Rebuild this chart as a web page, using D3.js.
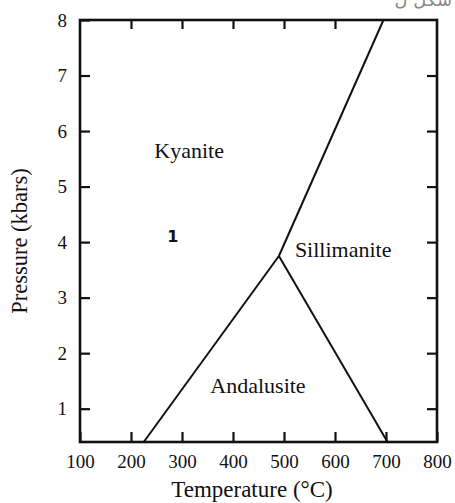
<!DOCTYPE html>
<html>
<head>
<meta charset="utf-8">
<script src="https://cdn.jsdelivr.net/npm/d3@7"></script>
<style>
  body { margin: 0; background: #fff; }
  text { font-family: "Liberation Serif", "Times New Roman", serif; fill: #111; }
  .axis path, .axis line { stroke: #111; }
</style>
</head>
<body>
<div id="chart"></div>
<script>
// tick values
var tempTicks = [100, 200, 300, 400, 500, 600, 700, 800];
var pressTicks = [1, 2, 3, 4, 5, 6, 7, 8];

// phase boundaries (temperature in C, pressure in kbar)
var kyAnd = [[225, 0.4], [490, 3.75]];
var andSil = [[490, 3.75], [703, 0.4]];
var kySil = [[490, 3.75], [695, 8]];

// field names and where they sit
var fieldNames = ["Kyanite", "Sillimanite", "Andalusite"];
var fieldPos = [[314, 5.52], [616, 3.74], [449, 1.29]];

var width = 455;
var height = 503;

// plot box
var pLeft = 80, pTop = 20, pRight = 437, pBottom = 442;

var svg = d3.select("#chart")
  .append("svg")
  .attr("width", width)
  .attr("height", height);

var xScale = d3.scaleLinear().domain([100, 800]).range([pLeft, pRight]);
var yScale = d3.scaleLinear().domain([0.4, 8]).range([pBottom, pTop]);

// bottom axis with labels
var xAxis = d3.axisBottom(xScale)
  .tickValues(tempTicks)
  .tickSizeInner(-10)
  .tickSizeOuter(0)
  .tickPadding(13)
  .tickFormat(d3.format("d"));

var gx = svg.append("g")
  .attr("class", "axis")
  .attr("transform", "translate(0," + pBottom + ")")
  .call(xAxis);
gx.select(".domain").remove();
gx.selectAll("line").attr("stroke-width", 2.2);
gx.selectAll("text").attr("font-size", 19).attr("fill", "#111");

// top ticks only
var gxt = svg.append("g")
  .attr("class", "axis")
  .attr("transform", "translate(0," + pTop + ")")
  .call(d3.axisTop(xScale).tickValues(tempTicks.slice(1, 6)).tickSizeInner(-9).tickSizeOuter(0).tickFormat(""));
gxt.select(".domain").remove();
gxt.selectAll("line").attr("stroke-width", 2.2);

// left axis with labels
var yAxis = d3.axisLeft(yScale)
  .tickValues(pressTicks)
  .tickSizeInner(-10)
  .tickSizeOuter(0)
  .tickPadding(13)
  .tickFormat(d3.format("d"));

var gy = svg.append("g")
  .attr("class", "axis")
  .attr("transform", "translate(" + pLeft + ",0)")
  .call(yAxis);
gy.select(".domain").remove();
gy.selectAll("line").attr("stroke-width", 2.2);
gy.selectAll("text").attr("font-size", 19).attr("fill", "#111");

// right ticks only
var gyr = svg.append("g")
  .attr("class", "axis")
  .attr("transform", "translate(" + pRight + ",0)")
  .call(d3.axisRight(yScale).tickValues(pressTicks.slice(0, 7)).tickSizeInner(-10).tickSizeOuter(0).tickFormat(""));
gyr.select(".domain").remove();
gyr.selectAll("line").attr("stroke-width", 2.2);

// frame
svg.append("rect")
  .attr("x", pLeft)
  .attr("y", pTop)
  .attr("width", pRight - pLeft)
  .attr("height", pBottom - pTop)
  .attr("fill", "none")
  .attr("stroke", "#111")
  .attr("stroke-width", 2.6);

// boundary lines
var line = d3.line()
  .x(function(d) { return xScale(d[0]); })
  .y(function(d) { return yScale(d[1]); });

[kyAnd, andSil, kySil].forEach(function(seg) {
  svg.append("path")
    .attr("d", line(seg))
    .attr("fill", "none")
    .attr("stroke", "#111")
    .attr("stroke-width", 2);
});

// field labels
svg.selectAll(".field")
  .data(fieldNames)
  .enter()
  .append("text")
  .attr("class", "field")
  .attr("x", function(d, i) { return xScale(fieldPos[i][0]); })
  .attr("y", function(d, i) { return yScale(fieldPos[i][1]); })
  .attr("text-anchor", "middle")
  .attr("font-size", 22)
  .text(function(d) { return d; });

// the little "1"
svg.append("text")
  .attr("x", xScale(282))
  .attr("y", yScale(4.0))
  .attr("text-anchor", "middle")
  .attr("font-size", 16)
  .attr("font-weight", "bold")
  .style("font-family", "DejaVu Sans, sans-serif")
  .text("1");

// axis titles
svg.append("text")
  .attr("x", 252)
  .attr("y", 497)
  .attr("text-anchor", "middle")
  .attr("font-size", 23)
  .text("Temperature (°C)");

svg.append("text")
  .attr("transform", "translate(27," + 241 + ")rotate(-90)")
  .attr("text-anchor", "middle")
  .attr("font-size", 22.5)
  .text("Pressure (kbars)");

// cropped caption fragment at the very top
svg.append("text")
  .attr("x", 452)
  .attr("y", 6)
  .attr("text-anchor", "end")
  .attr("font-size", 18)
  .style("font-family", "DejaVu Sans, sans-serif")
  .style("fill", "#888")
  .text("شکل ل");
</script>
</body>
</html>
